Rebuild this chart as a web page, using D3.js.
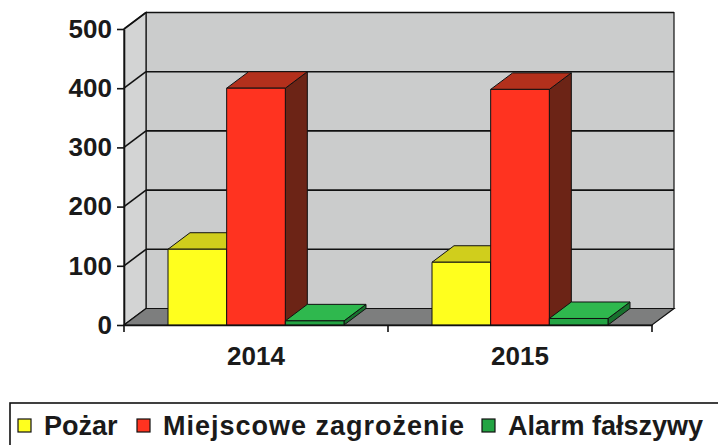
<!DOCTYPE html>
<html>
<head>
<meta charset="utf-8">
<script src="https://cdn.jsdelivr.net/npm/d3@7"></script>
<style>
  html, body { margin: 0; padding: 0; background: #fff; }
  svg { display: block; font-family: "Liberation Sans", Arial, sans-serif; }
</style>
</head>
<body>
<div id="diagram"></div>
<script>
// data
const years = ['2014', '2015'];
const series = ['Pożar', 'Miejscowe zagrożenie', 'Alarm fałszywy'];
const pozar = [128, 106];
const miejscowe = [400, 398];
const alarm = [7, 11];
const yTicks = [0, 100, 200, 300, 400, 500];

!(function () {
  'use strict'
  // - - - - - - - - - -
  // declaration
  const
    width = 718,
    height = 445,
    depth = { dx: 22, dy: -16.5 },
    plot = { left: 124, right: 652, top: 29, bottom: 325 },
    colors = [
      // front, top, side
      { front: '#ffff1e', top: '#d0ce1c', side: '#9a9810' },
      { front: '#ff3320', top: '#b3301c', side: '#6c2416' },
      { front: '#23a443', top: '#2fb84e', side: '#18722e' }
    ],
    values = [pozar, miejscowe, alarm];

  const svg = d3.select('#diagram')
    .append('svg')
    .attr('width', width)
    .attr('height', height);

  const yScale = d3.scaleLinear()
    .domain([0, 500])
    .range([plot.bottom, plot.top]);

  const xScale = d3.scaleBand()
    .domain(years)
    .range([plot.left, plot.right]);

  const sScale = d3.scaleBand()
    .domain(series)
    .range([0, xScale.bandwidth()])
    .paddingOuter(0.75);

  const pts = function (arr) {
    return arr.map(function (p) { return p[0] + ',' + p[1]; }).join(' ');
  };

  // walls
  const y0 = yScale(0), yMax = yScale(500);
  const L = plot.left, R = plot.right, dx = depth.dx, dy = depth.dy;

  svg.append('polygon')
    .attr('points', pts([[L + dx, yMax + dy], [R + dx, yMax + dy], [R + dx, y0 + dy], [L + dx, y0 + dy]]))
    .attr('fill', '#cbcccc')
    .attr('stroke', '#111')
    .attr('stroke-width', 1.2);

  svg.append('polygon')
    .attr('points', pts([[L, yMax], [L + dx, yMax + dy], [L + dx, y0 + dy], [L, y0]]))
    .attr('fill', '#d3d4d4')
    .attr('stroke', '#111')
    .attr('stroke-width', 1.2);

  svg.append('polygon')
    .attr('points', pts([[L, y0], [R, y0], [R + dx, y0 + dy], [L + dx, y0 + dy]]))
    .attr('fill', '#7d7e7e')
    .attr('stroke', '#111')
    .attr('stroke-width', 1.2);

  // gridlines
  const grid = svg.append('g')
    .attr('stroke', '#111')
    .attr('stroke-width', 1.6)
    .attr('fill', 'none');

  yTicks.filter(function (v) { return v > 0; }).forEach(function (v) {
    const yy = yScale(v);
    grid.append('line')
      .attr('x1', L + dx).attr('y1', yy + dy)
      .attr('x2', R + dx).attr('y2', yy + dy);
    grid.append('line')
      .attr('x1', L).attr('y1', yy)
      .attr('x2', L + dx).attr('y2', yy + dy);
  });

  // bars
  const bars = svg.append('g')
    .attr('stroke', '#111')
    .attr('stroke-width', 1)
    .attr('stroke-linejoin', 'round');

  years.forEach(function (yr, i) {
    series.forEach(function (s, j) {
      const v = values[j][i];
      const x0 = xScale(yr) + sScale(s);
      const x1 = x0 + sScale.bandwidth();
      const yt = yScale(v);
      const c = colors[j];
      bars.append('polygon')
        .attr('points', pts([[x1, yt], [x1 + dx, yt + dy], [x1 + dx, y0 + dy], [x1, y0]]))
        .attr('fill', c.side);
      bars.append('polygon')
        .attr('points', pts([[x0, yt], [x1, yt], [x1 + dx, yt + dy], [x0 + dx, yt + dy]]))
        .attr('fill', c.top);
      bars.append('rect')
        .attr('x', x0)
        .attr('y', yt)
        .attr('width', x1 - x0)
        .attr('height', y0 - yt)
        .attr('fill', c.front);
    });
  });

  // y axis
  const yAxis = d3.axisLeft(yScale)
    .tickValues(yTicks)
    .tickSize(7)
    .tickSizeOuter(0)
    .tickPadding(5);

  const ga = svg.append('g')
    .attr('transform', 'translate(' + L + ',0)')
    .call(yAxis);
  ga.selectAll('path, line').attr('stroke', '#111').attr('stroke-width', 1.6);
  ga.selectAll('text')
    .attr('fill', '#1a1a1a')
    .style('font-size', '26px')
    .style('font-weight', 'bold')
    .style('font-family', '"Liberation Sans", Arial, sans-serif');

  // x axis
  const xAxis = d3.axisBottom(xScale)
    .tickSize(0)
    .tickSizeOuter(0)
    .tickPadding(22);

  const gx = svg.append('g')
    .attr('transform', 'translate(0,' + y0 + ')')
    .call(xAxis);
  gx.select('.domain').attr('stroke', '#111').attr('stroke-width', 1.6);
  gx.selectAll('text')
    .attr('fill', '#1a1a1a')
    .style('font-size', '26px')
    .style('font-weight', 'bold')
    .style('font-family', '"Liberation Sans", Arial, sans-serif');

  // boundary ticks
  const bounds = years.map(function (yr) { return xScale(yr); }).concat([R]);
  gx.selectAll('.bound')
    .data(bounds)
    .enter()
    .append('line')
    .attr('class', 'bound')
    .attr('x1', function (d) { return d; })
    .attr('x2', function (d) { return d; })
    .attr('y1', 0)
    .attr('y2', 7)
    .attr('stroke', '#111')
    .attr('stroke-width', 1.6);

  // legend
  const legend = svg.append('g');
  legend.append('rect')
    .attr('x', 10)
    .attr('y', 403)
    .attr('width', 730)
    .attr('height', 60)
    .attr('fill', '#fff')
    .attr('stroke', '#111')
    .attr('stroke-width', 1.6);

  const legendX = [18, 137, 482];
  const legendSpacing = [0, 1, 0];
  series.forEach(function (s, j) {
    legend.append('rect')
      .attr('x', legendX[j])
      .attr('y', 419)
      .attr('width', 13)
      .attr('height', 13)
      .attr('fill', colors[j].front)
      .attr('stroke', '#111')
      .attr('stroke-width', 1.2);
    legend.append('text')
      .attr('x', legendX[j] + 26)
      .attr('y', 435)
      .attr('fill', '#1a1a1a')
      .style('font-size', '27px')
      .style('font-weight', 'bold')
      .style('letter-spacing', legendSpacing[j] + 'px')
      .text(s);
  });

  // - - - - - - - - - -
}())
</script>
</body>
</html>
